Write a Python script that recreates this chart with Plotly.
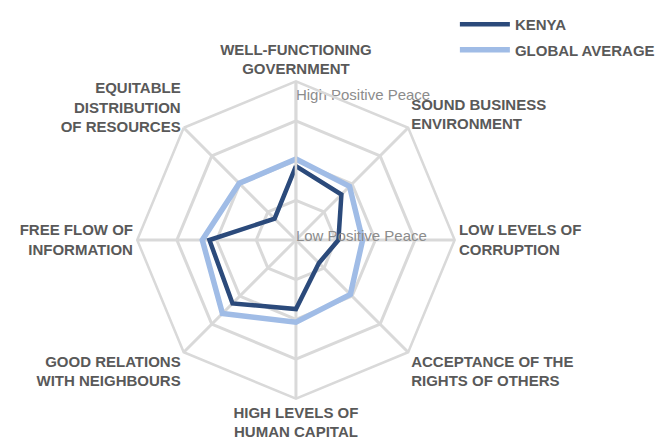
import plotly.graph_objects as go

# Positive Peace pillars (clockwise from the top)
pillars = [
    "WELL-FUNCTIONING<br>GOVERNMENT",
    "SOUND BUSINESS<br>ENVIRONMENT",
    "LOW LEVELS OF<br>CORRUPTION",
    "ACCEPTANCE OF THE<br>RIGHTS OF OTHERS",
    "HIGH LEVELS OF<br>HUMAN CAPITAL",
    "GOOD RELATIONS<br>WITH NEIGHBOURS",
    "FREE FLOW OF<br>INFORMATION",
    "EQUITABLE<br>DISTRIBUTION<br>OF RESOURCES",
]

# PPI scores (1 = high positive peace, 5 = low)
kenya = [3.14, 3.38, 3.93, 4.18, 3.26, 2.74, 2.82, 4.24]
global_avg = [2.96, 3.09, 3.32, 3.06, 2.93, 2.38, 2.64, 2.98]

# ring values and the scale captions that sit along the top spoke
ring_vals = [1, 2, 3, 4, 5]
scale_labels = ["High Positive Peace", "Low Positive Peace"]
scale_label_r = [1.38, 4.92]

label_grey = "#595959"
grid_grey = "#d9d9d9"
font_family = "Liberation Sans, Arial, sans-serif"

fig = go.Figure()

# global average drawn first so Kenya sits on top
fig.add_trace(go.Scatterpolar(
    r=global_avg + global_avg[:1],
    theta=pillars + pillars[:1],
    mode="lines",
    name="GLOBAL AVERAGE",
    legendgroup="global",
    line=dict(color="#a0bce6", width=5.5),
    legendrank=2,
))

fig.add_trace(go.Scatterpolar(
    r=kenya + kenya[:1],
    theta=pillars + pillars[:1],
    mode="lines",
    name="KENYA",
    legendgroup="kenya",
    line=dict(color="#2b4a7b", width=4.5),
    legendrank=1,
))

# scale captions
fig.add_trace(go.Scatterpolar(
    r=scale_label_r,
    theta=[pillars[0]] * len(scale_labels),
    mode="text",
    text=scale_labels,
    textposition="middle right",
    textfont=dict(size=15, color="#8c8c8c", family=font_family),
    showlegend=False,
    hoverinfo="skip",
))

fig.update_layout(
    width=665,
    height=444,
    margin=dict(l=0, r=0, t=0, b=0),
    paper_bgcolor="white",
    plot_bgcolor="white",
    font=dict(family=font_family, color=label_grey),
    polar=dict(
        domain=dict(x=[0.194, 0.672], y=[0.12, 0.835]),
        bgcolor="white",
        gridshape="linear",
        angularaxis=dict(
            direction="clockwise",
            rotation=90,
            showline=True,
            linecolor=grid_grey,
            linewidth=2.5,
            gridcolor=grid_grey,
            gridwidth=2.5,
            ticks="",
            tickfont=dict(size=15, color=label_grey,
                          family=font_family, weight="bold"),
        ),
        radialaxis=dict(
            range=[5, 1],
            angle=90,
            tickvals=ring_vals,
            showticklabels=False,
            ticks="",
            showline=True,
            linecolor=grid_grey,
            linewidth=2.5,
            gridcolor=grid_grey,
            gridwidth=2.5,
        ),
    ),
    legend=dict(
        x=0.672,
        y=1.0,
        xanchor="left",
        yanchor="top",
        bgcolor="rgba(0,0,0,0)",
        tracegroupgap=3,
        itemwidth=50,
        font=dict(size=15, color=label_grey, weight="bold"),
    ),
)

fig.write_html("out.html")
